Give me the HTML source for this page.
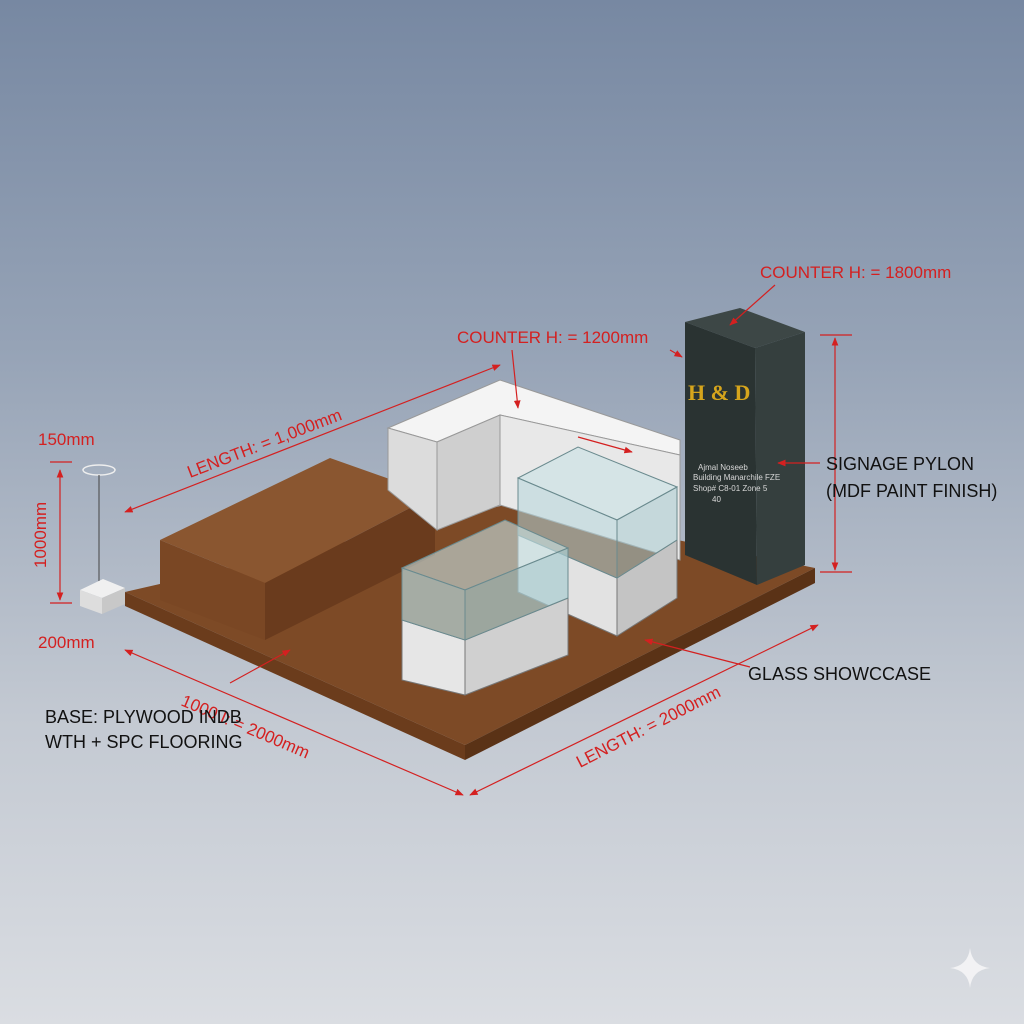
<!DOCTYPE html>
<html><head><style>
html,body{margin:0;padding:0;}
body{width:1024px;height:1024px;overflow:hidden;background:linear-gradient(180deg,#7788a2 0%,#97a4b7 35%,#c3c9d2 70%,#dadde2 100%);}
svg{position:absolute;left:0;top:0;}
text{font-family:"Liberation Sans",sans-serif;}
</style></head><body>
<svg width="1024" height="1024" viewBox="0 0 1024 1024">
<defs>
<marker id="a" viewBox="0 0 10 10" refX="9" refY="5" markerWidth="7" markerHeight="7" orient="auto-start-reverse"><path d="M0,1 L10,5 L0,9 z" fill="#d42020"/></marker>
</defs>
<polygon points="125,592 505,505 815,568 465,745" fill="#7d4a26"/>
<polygon points="125,592 465,745 465,760 125,606" fill="#6b3c1c"/>
<polygon points="465,745 815,568 815,583 465,760" fill="#5a3216"/>
<polygon points="160,540 330,458 435,495 265,583" fill="#8a5630"/>
<polygon points="160,540 265,583 265,640 160,600" fill="#7a4724"/>
<polygon points="265,583 435,495 435,555 265,640" fill="#6a3b1d"/>
<polygon points="388,428 500,380 680,440 680,455 500,415 437,442" fill="#f4f4f4" stroke="#999" stroke-width="1"/>
<polygon points="388,428 437,442 437,530 388,490" fill="#dcdcdc" stroke="#999"/>
<polygon points="437,442 500,415 500,505 437,530" fill="#cfcfcf" stroke="#999"/>
<polygon points="500,415 680,455 680,560 500,505" fill="#e8e8e8" stroke="#999"/>
<polygon points="518,535 617,578 617,636 518,592" fill="#e2e2e2" stroke="#777"/>
<polygon points="617,578 677,540 677,598 617,636" fill="#c4c4c4" stroke="#777"/>
<polygon points="518,478 578,447 677,487 617,520" fill="#c4e0e3" fill-opacity=".55" stroke="#6a8a8e"/>
<polygon points="518,478 617,520 617,578 518,535" fill="#b4d6da" fill-opacity=".55" stroke="#6a8a8e"/>
<polygon points="617,520 677,487 677,540 617,578" fill="#a8cbd0" fill-opacity=".55" stroke="#6a8a8e"/>
<polygon points="402,620 465,640 465,695 402,680" fill="#e6e6e6" stroke="#777"/>
<polygon points="465,640 568,598 568,655 465,695" fill="#d0d0d0" stroke="#777"/>
<polygon points="402,568 505,520 568,548 465,590" fill="#c8e2e5" fill-opacity=".6" stroke="#6a8a8e"/>
<polygon points="402,568 465,590 465,640 402,620" fill="#b6d6da" fill-opacity=".7" stroke="#6a8a8e"/>
<polygon points="465,590 568,548 568,598 465,640" fill="#aacdd1" fill-opacity=".7" stroke="#6a8a8e"/>
<polygon points="685,322 740,308 805,332 755,348" fill="#3d4746"/>
<polygon points="685,322 755,348 757,585 685,555" fill="#2a3332"/>
<polygon points="755,348 805,332 805,565 757,585" fill="#353f3e"/>
<text x="688" y="400" style="font-family:'Liberation Serif',serif" font-size="22" font-weight="bold" fill="#d6a51c">H &amp; D</text>
<g font-size="8" fill="#d8d8d8"><text x="698" y="470">Ajmal Noseeb</text><text x="693" y="480">Building Manarchile FZE</text><text x="693" y="491">Shop# C8-01 Zone 5</text><text x="712" y="502">40</text></g>
<ellipse cx="99" cy="470" rx="16" ry="5" fill="none" stroke="#eee" stroke-width="1.5"/>
<line x1="99" y1="475" x2="99" y2="585" stroke="#444"/>
<polygon points="80,590 103,579 125,588 102,598" fill="#f0f0f0"/>
<polygon points="80,590 102,598 102,614 80,606" fill="#ddd"/>
<polygon points="102,598 125,588 125,604 102,614" fill="#c8c8c8"/>
<g stroke="#d42020" stroke-width="1.2" fill="none">
<line x1="125" y1="512" x2="500" y2="365" marker-start="url(#a)" marker-end="url(#a)"/>
<line x1="60" y1="470" x2="60" y2="600" marker-start="url(#a)" marker-end="url(#a)"/>
<line x1="50" y1="462" x2="72" y2="462"/><line x1="50" y1="603" x2="72" y2="603"/>
<line x1="125" y1="650" x2="463" y2="795" marker-start="url(#a)" marker-end="url(#a)"/>
<line x1="470" y1="795" x2="818" y2="625" marker-start="url(#a)" marker-end="url(#a)"/>
<line x1="835" y1="338" x2="835" y2="570" marker-start="url(#a)" marker-end="url(#a)"/>
<line x1="820" y1="335" x2="852" y2="335"/><line x1="820" y1="572" x2="852" y2="572"/>
<line x1="775" y1="285" x2="730" y2="325" marker-end="url(#a)"/>
<line x1="512" y1="350" x2="518" y2="408" marker-end="url(#a)"/>
<line x1="578" y1="437" x2="632" y2="452" marker-end="url(#a)"/>
<line x1="820" y1="463" x2="778" y2="463" marker-end="url(#a)"/>
<line x1="750" y1="667" x2="645" y2="640" marker-end="url(#a)"/>
<line x1="230" y1="683" x2="290" y2="650" marker-end="url(#a)"/>
<line x1="670" y1="350" x2="682" y2="357" marker-end="url(#a)"/>
</g>
<g fill="#d42020" font-size="17">
<text x="760" y="278">COUNTER H: = 1800mm</text>
<text x="457" y="343">COUNTER H: = 1200mm</text>
<text x="190" y="478" transform="rotate(-21 190 478)">LENGTH: = 1,000mm</text>
<text x="38" y="445">150mm</text>
<text x="46" y="568" transform="rotate(-90 46 568)">1000mm</text>
<text x="38" y="648">200mm</text>
<text x="180" y="705" transform="rotate(23 180 705)">1000 I: = 2000mm</text>
<text x="580" y="768" transform="rotate(-27 580 768)">LENGTH: = 2000mm</text>
</g>
<g fill="#111" font-size="18">
<text x="826" y="470">SIGNAGE PYLON</text>
<text x="826" y="497">(MDF PAINT FINISH)</text>
<text x="748" y="680">GLASS SHOWCCASE</text>
<text x="45" y="723">BASE: PLYWOOD INDB</text>
<text x="45" y="748">WTH + SPC FLOORING</text>
</g>
<path d="M970,948 Q972,966 990,968 Q972,970 970,988 Q968,970 950,968 Q968,966 970,948z" fill="#f2f2f4"/>
</svg>
</body></html>
